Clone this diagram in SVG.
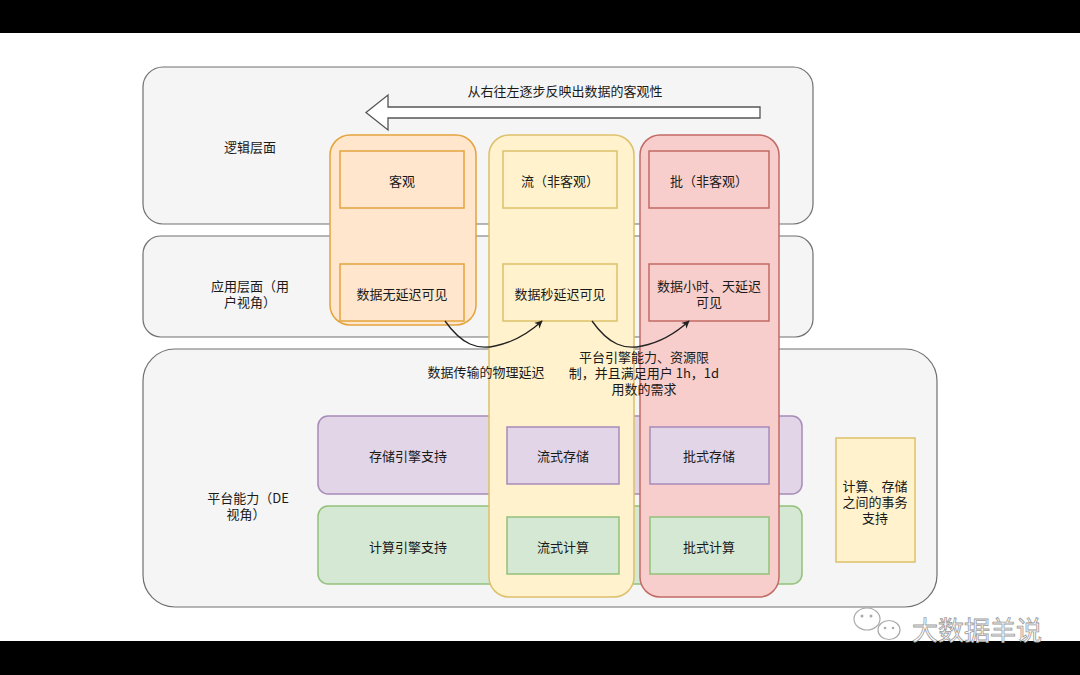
<svg xmlns="http://www.w3.org/2000/svg" width="1080" height="675" viewBox="0 0 1080 675">
<defs>
<style>
text{font-family:"Noto Sans CJK SC","Noto Sans",sans-serif;font-size:13px;fill:#1a1a1a;text-anchor:middle;dominant-baseline:central}
.layer{fill:#f5f5f5;stroke:#707070;stroke-width:1.2}
.orange{fill:#ffe6cc;stroke:#e3a43c;stroke-width:1.5}
.yellow{fill:#fff2cc;stroke:#dcc06a;stroke-width:1.5}
.red{fill:#f8cecc;stroke:#c26a66;stroke-width:1.5}
.purple{fill:#e1d5e7;stroke:#a78bb8;stroke-width:1.5}
.green{fill:#d5e8d4;stroke:#93c07a;stroke-width:1.5}
.conn{fill:none;stroke:#222;stroke-width:1.3}
</style>
<marker id="ah" viewBox="0 0 10 10" refX="9" refY="5" markerWidth="8" markerHeight="8" orient="auto" markerUnits="userSpaceOnUse">
<path d="M0,0 L10,5 L0,10 L3,5 Z" fill="#222"/>
</marker>
</defs>
<rect x="0" y="0" width="1080" height="675" fill="#ffffff"/>
<rect x="0" y="0" width="1080" height="33" fill="#000"/>
<rect x="0" y="641" width="1080" height="34" fill="#000"/>

<g id="layer-logic"><rect class="layer" x="143" y="67" width="670" height="157" rx="20"/><text x="250" y="146">逻辑层面</text></g>
<g id="layer-app"><rect class="layer" x="143" y="236" width="670" height="101" rx="18"/><text x="250" y="285">应用层面（用<tspan x="250" dy="16">户视角）</tspan></text></g>
<g id="layer-platform"><rect class="layer" x="143" y="349" width="794" height="258" rx="32"/><text x="248" y="497">平台能力（DE<tspan x="246" dy="16">视角）</tspan></text></g>

<g id="big-arrow"><path d="M760,107 L388,107 L388,95 L366,112.5 L388,130 L388,118 L760,118 Z" fill="#fff" stroke="#555" stroke-width="1.3"/><text x="565" y="90">从右往左逐步反映出数据的客观性</text></g>

<g id="row-storage"><rect class="purple" x="318" y="416" width="484" height="78" rx="10"/><text x="408" y="455">存储引擎支持</text></g>
<g id="row-compute"><rect class="green" x="318" y="506" width="484" height="78" rx="10"/><text x="408" y="546">计算引擎支持</text></g>

<g id="col-objective"><rect class="orange" x="330" y="135" width="146" height="190" rx="20"/></g>
<g id="col-stream"><rect class="yellow" x="489" y="135" width="145" height="462" rx="20"/></g>
<g id="col-batch"><rect class="red" x="640" y="135" width="139" height="462" rx="20"/></g>

<g id="objective"><rect class="orange" x="340" y="151" width="124" height="57"/><text x="402" y="180">客观</text></g>
<g id="stream"><rect class="yellow" x="503" y="151" width="114" height="57"/><text x="560" y="180">流（非客观）</text></g>
<g id="batch"><rect class="red" x="649" y="151" width="120" height="57"/><text x="709" y="180">批（非客观）</text></g>

<g id="no-delay"><rect class="orange" x="340" y="264" width="124" height="57"/><text x="402" y="293">数据无延迟可见</text></g>
<g id="sec-delay"><rect class="yellow" x="503" y="264" width="114" height="57"/><text x="560" y="293">数据秒延迟可见</text></g>
<g id="hour-delay"><rect class="red" x="649" y="264" width="120" height="57"/><text x="709" y="285">数据小时、天延迟<tspan x="709" dy="16">可见</tspan></text></g>

<g id="stream-storage"><rect class="purple" x="507" y="427" width="112" height="57"/><text x="563" y="455">流式存储</text></g>
<g id="batch-storage"><rect class="purple" x="650" y="427" width="119" height="57"/><text x="709" y="455">批式存储</text></g>
<g id="stream-compute"><rect class="green" x="507" y="517" width="112" height="57"/><text x="563" y="546">流式计算</text></g>
<g id="batch-compute"><rect class="green" x="650" y="517" width="119" height="57"/><text x="709" y="546">批式计算</text></g>

<g id="transaction"><rect class="yellow" x="836" y="438" width="79" height="124"/><text x="875" y="485">计算、存储<tspan x="875" dy="16">之间的事务</tspan><tspan x="875" dy="16">支持</tspan></text></g>

<g id="connectors">
<path class="conn" d="M445,321 C462,345 478,350 495,346 C515,342 530,332 542,321" marker-end="url(#ah)"/>
<path class="conn" d="M592,321 C609,345 625,350 642,346 C662,342 677,332 689,321" marker-end="url(#ah)"/>
<text x="486" y="371">数据传输的物理延迟</text>
<text x="644" y="356">平台引擎能力、资源限<tspan x="644" dy="16">制，并且满足用户 1h，1d</tspan><tspan x="644" dy="16">用数的需求</tspan></text>
</g>

<g id="watermark">
<ellipse cx="867" cy="619" rx="13" ry="11" fill="#fff" stroke="#aaa" stroke-width="1.2"/>
<ellipse cx="889" cy="630" rx="11" ry="9.5" fill="#fff" stroke="#aaa" stroke-width="1.2"/>
<circle cx="862" cy="616" r="1.5" fill="#aaa"/><circle cx="871" cy="616" r="1.5" fill="#aaa"/>
<circle cx="885" cy="628" r="1.3" fill="#aaa"/><circle cx="893" cy="628" r="1.3" fill="#aaa"/>
<text x="977" y="628" style="font-size:26px;fill:#fff;stroke:#9a9a9a;stroke-width:0.8">大数据羊说</text>
</g>
</svg>
